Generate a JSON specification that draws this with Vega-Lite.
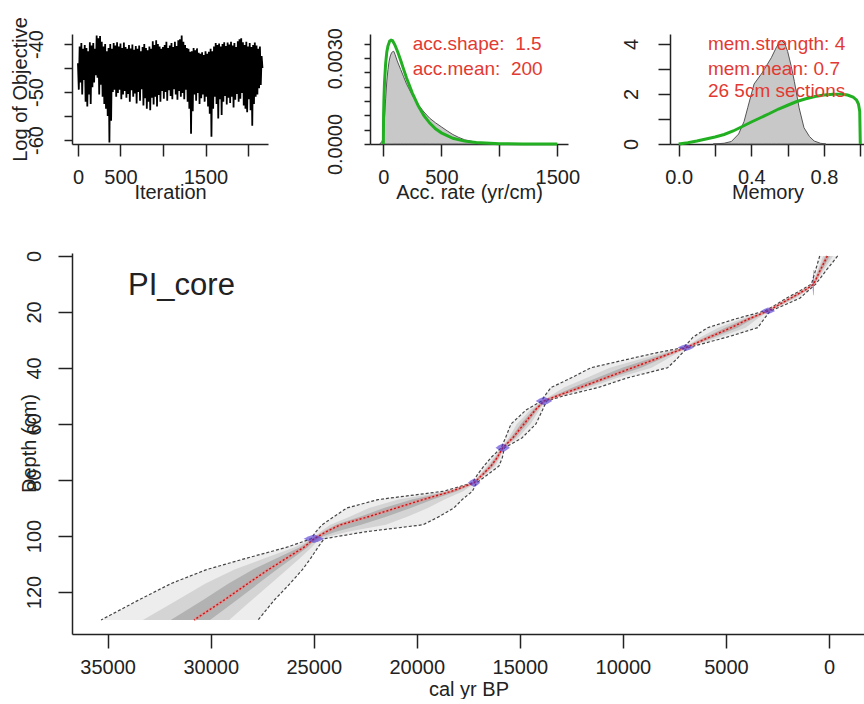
{
  "$schema": "https://vega.github.io/schema/vega-lite/v6.json",
  "padding": {"left": 9, "top": 16, "right": 0, "bottom": 0},
  "bounds": "flush",
  "spacing": 219,
  "config": {
    "view": {"stroke": null},
    "font": "Liberation Sans",
    "axis": {
      "grid": false, "domainColor": "#222", "domainWidth": 1.5, "tickColor": "#222", "tickWidth": 1.5,
      "labelFont": "Liberation Sans", "labelFontSize": 20, "labelColor": "#222",
      "titleFont": "Liberation Sans", "titleFontSize": 20, "titleFontWeight": "normal", "titleColor": "#222",
      "labelFlush": false, "labelOverlap": false
    }
  },
  "datasets": {
    "trace": [
      {"i":0,"v":-44},{"i":10,"v":-49.5},{"i":20,"v":-40.5},{"i":30,"v":-48},{"i":40,"v":-39.8},{"i":50,"v":-50.5},{"i":60,"v":-41},{"i":70,"v":-47.5},{"i":80,"v":-40.2},{"i":90,"v":-52},
      {"i":100,"v":-40.8},{"i":110,"v":-53},{"i":120,"v":-41.5},{"i":130,"v":-50.5},{"i":140,"v":-39.6},{"i":150,"v":-52.5},{"i":160,"v":-40.3},{"i":170,"v":-49},{"i":180,"v":-39.8},{"i":190,"v":-48},
      {"i":200,"v":-41},{"i":210,"v":-46.5},{"i":220,"v":-38.2},{"i":230,"v":-47},{"i":240,"v":-38.8},{"i":250,"v":-50.5},{"i":260,"v":-38.3},{"i":270,"v":-48.5},{"i":280,"v":-39.5},{"i":290,"v":-51},
      {"i":300,"v":-40.5},{"i":310,"v":-52.5},{"i":320,"v":-40},{"i":330,"v":-53.5},{"i":340,"v":-41.5},{"i":350,"v":-55},{"i":360,"v":-40.8},{"i":370,"v":-60.5},{"i":380,"v":-40},{"i":390,"v":-56},
      {"i":400,"v":-41},{"i":410,"v":-50},{"i":420,"v":-39.8},{"i":430,"v":-49.5},{"i":440,"v":-40.3},{"i":450,"v":-51},{"i":460,"v":-39.6},{"i":470,"v":-50.2},{"i":480,"v":-40.5},{"i":490,"v":-49.5},
      {"i":500,"v":-39.9},{"i":510,"v":-51.5},{"i":520,"v":-40.8},{"i":530,"v":-50.5},{"i":540,"v":-39.7},{"i":550,"v":-49.8},{"i":560,"v":-40.6},{"i":570,"v":-51.2},{"i":580,"v":-41},{"i":590,"v":-50.4},
      {"i":600,"v":-40.2},{"i":610,"v":-52},{"i":620,"v":-40.9},{"i":630,"v":-49.6},{"i":640,"v":-40.1},{"i":650,"v":-51},{"i":660,"v":-41.2},{"i":670,"v":-50.3},{"i":680,"v":-40.4},{"i":690,"v":-52.4},
      {"i":700,"v":-41},{"i":710,"v":-50},{"i":720,"v":-40.3},{"i":730,"v":-51.8},{"i":740,"v":-41.5},{"i":750,"v":-49.4},{"i":760,"v":-40.6},{"i":770,"v":-52.8},{"i":780,"v":-40},{"i":790,"v":-51.3},
      {"i":800,"v":-40.8},{"i":810,"v":-53.5},{"i":820,"v":-41.3},{"i":830,"v":-52},{"i":840,"v":-40.5},{"i":850,"v":-53.8},{"i":860,"v":-41},{"i":870,"v":-51.2},{"i":880,"v":-39.4},{"i":890,"v":-52.6},
      {"i":900,"v":-40.2},{"i":910,"v":-51},{"i":920,"v":-39.2},{"i":930,"v":-53},{"i":940,"v":-40},{"i":950,"v":-50.6},{"i":960,"v":-40.5},{"i":970,"v":-52},{"i":980,"v":-41},{"i":990,"v":-49.8},
      {"i":1000,"v":-40.6},{"i":1010,"v":-51.4},{"i":1020,"v":-40.2},{"i":1030,"v":-50},{"i":1040,"v":-39.5},{"i":1050,"v":-51.8},{"i":1060,"v":-40.8},{"i":1070,"v":-49.6},{"i":1080,"v":-40.3},{"i":1090,"v":-50.8},
      {"i":1100,"v":-39.8},{"i":1110,"v":-51.5},{"i":1120,"v":-40.6},{"i":1130,"v":-49.4},{"i":1140,"v":-39.5},{"i":1150,"v":-50.5},{"i":1160,"v":-40.4},{"i":1170,"v":-51.6},{"i":1180,"v":-39.2},{"i":1190,"v":-49.8},
      {"i":1200,"v":-39},{"i":1210,"v":-51},{"i":1220,"v":-38.2},{"i":1230,"v":-50.2},{"i":1240,"v":-39.5},{"i":1250,"v":-51.5},{"i":1260,"v":-40.2},{"i":1270,"v":-49.5},{"i":1280,"v":-40.8},{"i":1290,"v":-52},
      {"i":1300,"v":-41},{"i":1310,"v":-53.5},{"i":1320,"v":-41.6},{"i":1330,"v":-58.7},{"i":1340,"v":-41.5},{"i":1350,"v":-54},{"i":1360,"v":-40.8},{"i":1370,"v":-50.5},{"i":1380,"v":-41.3},{"i":1390,"v":-51.8},
      {"i":1400,"v":-40.9},{"i":1410,"v":-50.2},{"i":1420,"v":-41.8},{"i":1430,"v":-52.5},{"i":1440,"v":-42},{"i":1450,"v":-51.3},{"i":1460,"v":-41.7},{"i":1470,"v":-50.5},{"i":1480,"v":-42.3},{"i":1490,"v":-52},
      {"i":1500,"v":-41.5},{"i":1510,"v":-51},{"i":1520,"v":-42},{"i":1530,"v":-53},{"i":1540,"v":-41.6},{"i":1550,"v":-54.5},{"i":1560,"v":-41},{"i":1570,"v":-59.3},{"i":1580,"v":-41.5},{"i":1590,"v":-53.5},
      {"i":1600,"v":-40.5},{"i":1610,"v":-51},{"i":1620,"v":-39.8},{"i":1630,"v":-52.5},{"i":1640,"v":-40.2},{"i":1650,"v":-55.5},{"i":1660,"v":-39.9},{"i":1670,"v":-51.5},{"i":1680,"v":-40.5},{"i":1690,"v":-54.8},
      {"i":1700,"v":-40},{"i":1710,"v":-52},{"i":1720,"v":-39.6},{"i":1730,"v":-50.8},{"i":1740,"v":-40.4},{"i":1750,"v":-52.6},{"i":1760,"v":-39.7},{"i":1770,"v":-51.2},{"i":1780,"v":-40.1},{"i":1790,"v":-52.3},
      {"i":1800,"v":-39.5},{"i":1810,"v":-51},{"i":1820,"v":-40.3},{"i":1830,"v":-53.2},{"i":1840,"v":-39.8},{"i":1850,"v":-51.6},{"i":1860,"v":-40.6},{"i":1870,"v":-50.4},{"i":1880,"v":-39.4},{"i":1890,"v":-52},
      {"i":1900,"v":-39},{"i":1910,"v":-51.4},{"i":1920,"v":-38.8},{"i":1930,"v":-50.2},{"i":1940,"v":-39.6},{"i":1950,"v":-52.8},{"i":1960,"v":-40.2},{"i":1970,"v":-53.5},{"i":1980,"v":-39.5},{"i":1990,"v":-54.2},
      {"i":2000,"v":-40.5},{"i":2010,"v":-51.5},{"i":2020,"v":-39.8},{"i":2030,"v":-53.8},{"i":2040,"v":-40.6},{"i":2050,"v":-57},{"i":2060,"v":-40.2},{"i":2070,"v":-52.5},{"i":2080,"v":-39.7},{"i":2090,"v":-51},
      {"i":2100,"v":-40.3},{"i":2110,"v":-50.5},{"i":2120,"v":-41},{"i":2130,"v":-49.2},{"i":2140,"v":-40.5},{"i":2150,"v":-48.5},{"i":2160,"v":-42.5},{"i":2170,"v":-45}
    ],
    "accPost": [
      {"x":-30,"y":0},{"x":-10,"y":0.0001},{"x":0,"y":0.0003},{"x":10,"y":0.0009},{"x":20,"y":0.0016},{"x":30,"y":0.0022},{"x":40,"y":0.0026},{"x":50,"y":0.0029},{"x":60,"y":0.00308},{"x":70,"y":0.00318},
      {"x":80,"y":0.00323},{"x":90,"y":0.00324},{"x":100,"y":0.00314},{"x":120,"y":0.0029},{"x":150,"y":0.0026},{"x":175,"y":0.00235},{"x":200,"y":0.0021},{"x":250,"y":0.0017},{"x":300,"y":0.00138},{"x":350,"y":0.00112},
      {"x":400,"y":0.0009},{"x":450,"y":0.00074},{"x":500,"y":0.0006},{"x":550,"y":0.00046},{"x":600,"y":0.00033},{"x":650,"y":0.00023},{"x":700,"y":0.00015},{"x":800,"y":0.00006},{"x":900,"y":0.00002},{"x":950,"y":0}
    ],
    "accPrior": [
      {"x":0,"y":0},{"x":2,"y":0.001},{"x":5,"y":0.00155},{"x":10,"y":0.00215},{"x":20,"y":0.00282},{"x":30,"y":0.00322},{"x":40,"y":0.00343},{"x":55,"y":0.0036},{"x":67,"y":0.00363},{"x":80,"y":0.00361},
      {"x":100,"y":0.00346},{"x":125,"y":0.00321},{"x":150,"y":0.00292},{"x":175,"y":0.00261},{"x":200,"y":0.00231},{"x":250,"y":0.00178},{"x":300,"y":0.00134},{"x":350,"y":0.00099},{"x":400,"y":0.00073},{"x":450,"y":0.00053},
      {"x":500,"y":0.00039},{"x":600,"y":0.0002},{"x":700,"y":0.0001},{"x":800,"y":0.00005},{"x":1000,"y":0.000013},{"x":1200,"y":0.000003},{"x":1500,"y":0}
    ],
    "accText": [
      {"x":253,"y":0.0035,"t":"acc.shape:\u00a0 1.5"},
      {"x":253,"y":0.00262,"t":"acc.mean:\u00a0 200"}
    ],
    "memPost": [
      {"x":0.19,"y":0},{"x":0.25,"y":0.03},{"x":0.29,"y":0.1},{"x":0.33,"y":0.4},{"x":0.36,"y":0.9},{"x":0.38,"y":1.45},{"x":0.415,"y":2.4},{"x":0.46,"y":2.85},{"x":0.51,"y":3.45},{"x":0.54,"y":3.9},
      {"x":0.565,"y":4.15},{"x":0.585,"y":4.0},{"x":0.6,"y":3.7},{"x":0.62,"y":3.1},{"x":0.637,"y":2.5},{"x":0.663,"y":1.45},{"x":0.69,"y":0.65},{"x":0.72,"y":0.3},{"x":0.746,"y":0.12},{"x":0.78,"y":0.03},{"x":0.81,"y":0}
    ],
    "memPrior": [
      {"x":0,"y":0},{"x":0.05,"y":0.05},{"x":0.1,"y":0.12},{"x":0.15,"y":0.2},{"x":0.2,"y":0.28},{"x":0.25,"y":0.38},{"x":0.3,"y":0.52},{"x":0.35,"y":0.7},{"x":0.4,"y":0.88},{"x":0.45,"y":1.05},
      {"x":0.5,"y":1.22},{"x":0.55,"y":1.4},{"x":0.6,"y":1.55},{"x":0.65,"y":1.7},{"x":0.7,"y":1.81},{"x":0.75,"y":1.9},{"x":0.8,"y":1.96},{"x":0.85,"y":1.99},{"x":0.9,"y":1.99},{"x":0.93,"y":1.96},
      {"x":0.96,"y":1.88},{"x":0.98,"y":1.75},{"x":0.99,"y":1.6},{"x":0.997,"y":1.3},{"x":1.0,"y":0}
    ],
    "memText": [
      {"x":0.161,"y":4.0,"t":"mem.strength: 4"},
      {"x":0.161,"y":3.0,"t":"mem.mean: 0.7"},
      {"x":0.161,"y":2.12,"t":"26 5cm sections"}
    ],
    "model": [
      {"depth":0,"old":450,"mean":80,"young":-420,"bo":284,"by":-195,"co":173,"cy":-45},
      {"depth":5,"old":650,"mean":420,"young":120,"bo":547,"by":255,"co":478,"cy":345},
      {"depth":10,"old":850,"mean":740,"young":640,"bo":800,"by":685,"co":768,"cy":715},
      {"depth":12,"old":1300,"mean":1120,"young":950,"bo":1219,"by":1027,"co":1165,"cy":1078},
      {"depth":15,"old":2050,"mean":1850,"young":1400,"bo":1960,"by":1603,"co":1900,"cy":1738},
      {"depth":17.5,"old":2600,"mean":2450,"young":2150,"bo":2533,"by":2285,"co":2488,"cy":2375},
      {"depth":19.6,"old":3100,"mean":2960,"young":2850,"bo":3037,"by":2900,"co":2995,"cy":2933},
      {"depth":22.5,"old":4550,"mean":3900,"young":3150,"bo":4258,"by":3488,"co":4063,"cy":3713},
      {"depth":25.6,"old":5890,"mean":4750,"young":3460,"bo":5377,"by":4041,"co":5035,"cy":4428},
      {"depth":29,"old":6600,"mean":5800,"young":4950,"bo":6240,"by":5333,"co":6000,"cy":5588},
      {"depth":32.7,"old":7050,"mean":6940,"young":6830,"bo":7001,"by":6880,"co":6968,"cy":6913},
      {"depth":34.5,"old":8330,"mean":7590,"young":7100,"bo":7997,"by":7320,"co":7775,"cy":7468},
      {"depth":36.9,"old":9780,"mean":8450,"young":7400,"bo":9182,"by":7873,"co":8783,"cy":8188},
      {"depth":39.9,"old":11550,"mean":9530,"young":7830,"bo":10641,"by":8606,"co":10035,"cy":9110},
      {"depth":43.5,"old":12500,"mean":10830,"young":9770,"bo":11749,"by":10247,"co":11248,"cy":10565},
      {"depth":47,"old":13490,"mean":12090,"young":11210,"bo":12860,"by":11606,"co":12440,"cy":11870},
      {"depth":50,"old":13800,"mean":13200,"young":12900,"bo":13530,"by":13035,"co":13350,"cy":13125},
      {"depth":51.8,"old":13950,"mean":13830,"young":13700,"bo":13896,"by":13759,"co":13860,"cy":13798},
      {"depth":55,"old":14700,"mean":14250,"young":13900,"bo":14498,"by":14058,"co":14363,"cy":14163},
      {"depth":60,"old":15430,"mean":14800,"young":14220,"bo":15147,"by":14481,"co":14958,"cy":14655},
      {"depth":65,"old":15700,"mean":15350,"young":14900,"bo":15543,"by":15103,"co":15438,"cy":15238},
      {"depth":68.5,"old":15900,"mean":15830,"young":15750,"bo":15869,"by":15786,"co":15848,"cy":15810},
      {"depth":72,"old":16400,"mean":16100,"young":15850,"bo":16265,"by":15963,"co":16175,"cy":16038},
      {"depth":75,"old":16740,"mean":16400,"young":16010,"bo":16587,"by":16186,"co":16485,"cy":16303},
      {"depth":78,"old":17050,"mean":16800,"young":16550,"bo":16938,"by":16663,"co":16863,"cy":16738},
      {"depth":81,"old":17300,"mean":17220,"young":17100,"bo":17264,"by":17154,"co":17240,"cy":17190},
      {"depth":84,"old":18680,"mean":18300,"young":17300,"bo":18509,"by":17750,"co":18395,"cy":18050},
      {"depth":87,"old":21880,"mean":19700,"young":17800,"bo":20899,"by":18655,"co":20245,"cy":19225},
      {"depth":90,"old":23400,"mean":21000,"young":18200,"bo":22320,"by":19460,"co":21600,"cy":20300},
      {"depth":93,"old":24000,"mean":22300,"young":18900,"bo":23235,"by":20430,"co":22725,"cy":21450},
      {"depth":96,"old":24600,"mean":23700,"young":19700,"bo":24195,"by":21500,"co":23925,"cy":22700},
      {"depth":98.5,"old":24900,"mean":24400,"young":22500,"bo":24675,"by":23355,"co":24525,"cy":23925},
      {"depth":101,"old":25130,"mean":24990,"young":24500,"bo":25067,"by":24720,"co":25025,"cy":24868},
      {"depth":104,"old":26300,"mean":25470,"young":24790,"bo":25927,"by":25096,"co":25678,"cy":25300},
      {"depth":108,"old":28300,"mean":26340,"young":25150,"bo":27418,"by":25686,"co":26830,"cy":26043},
      {"depth":112,"old":30200,"mean":27200,"young":25550,"bo":28850,"by":26293,"co":27950,"cy":26788},
      {"depth":117,"old":31930,"mean":28200,"young":26150,"bo":30252,"by":27073,"co":29133,"cy":27688},
      {"depth":123,"old":33530,"mean":29370,"young":26930,"bo":31658,"by":28028,"co":30410,"cy":28760},
      {"depth":130,"old":35320,"mean":30810,"young":27700,"bo":33291,"by":29100,"co":31938,"cy":30033}
    ],
    "dates": [
      {"date":1,"age":735,"depth":9,"depth2":12},{"date":1,"age":750,"depth":5,"depth2":14},{"date":1,"age":770,"depth":5,"depth2":14},{"date":1,"age":785,"depth":9,"depth2":12},
      {"date":2,"age":2610,"depth":19.6,"depth2":19.6},{"date":2,"age":2785,"depth":18.9,"depth2":20.3},{"date":2,"age":2960,"depth":18.4,"depth2":20.8},{"date":2,"age":3135,"depth":18.9,"depth2":20.3},{"date":2,"age":3310,"depth":19.6,"depth2":19.6},
      {"date":3,"age":6540,"depth":32.7,"depth2":32.7},{"date":3,"age":6740,"depth":32.0,"depth2":33.4},{"date":3,"age":6940,"depth":31.5,"depth2":33.9},{"date":3,"age":7140,"depth":32.0,"depth2":33.4},{"date":3,"age":7340,"depth":32.7,"depth2":32.7},
      {"date":4,"age":13430,"depth":51.8,"depth2":51.8},{"date":4,"age":13630,"depth":50.9,"depth2":52.7},{"date":4,"age":13830,"depth":50.3,"depth2":53.3},{"date":4,"age":14030,"depth":50.9,"depth2":52.7},{"date":4,"age":14230,"depth":51.8,"depth2":51.8},
      {"date":5,"age":15480,"depth":68.5,"depth2":68.5},{"date":5,"age":15655,"depth":67.6,"depth2":69.4},{"date":5,"age":15830,"depth":67.0,"depth2":70.0},{"date":5,"age":16005,"depth":67.6,"depth2":69.4},{"date":5,"age":16180,"depth":68.5,"depth2":68.5},
      {"date":6,"age":16920,"depth":81,"depth2":81},{"date":6,"age":17070,"depth":80.1,"depth2":81.9},{"date":6,"age":17220,"depth":79.5,"depth2":82.5},{"date":6,"age":17370,"depth":80.1,"depth2":81.9},{"date":6,"age":17520,"depth":81,"depth2":81},
      {"date":7,"age":24490,"depth":101,"depth2":101},{"date":7,"age":24740,"depth":100.1,"depth2":101.9},{"date":7,"age":24990,"depth":99.5,"depth2":102.5},{"date":7,"age":25240,"depth":100.1,"depth2":101.9},{"date":7,"age":25490,"depth":101,"depth2":101}
    ],
    "coreLabel": [{"age":34010,"depth":10.7,"t":"PI_core"}]
  },
  "vconcat": [
    {
      "bounds": "flush",
      "spacing": 102,
      "hconcat": [
        {
          "width": 196, "height": 110,
          "data": {"name": "trace"},
          "mark": {"type": "line", "color": "#000", "strokeWidth": 1.8},
          "encoding": {
            "x": {"field": "i", "type": "quantitative",
              "scale": {"domain": [-70, 2235], "nice": false, "zero": false},
              "axis": {"values": [0, 500, 1000, 1500, 2000], "format": "d",
                "labelExpr": "datum.value == 1000 || datum.value == 2000 ? '' : datum.label",
                "tickSize": 12, "labelPadding": 11, "title": "Iteration", "titleY": 38, "titleBaseline": "top"}},
            "y": {"field": "v", "type": "quantitative",
              "scale": {"domain": [-60.83, -37.9], "nice": false, "zero": false},
              "axis": {"values": [-60, -55, -50, -45, -40],
                "labelExpr": "datum.value == -45 || datum.value == -55 ? '' : '-' + abs(datum.value)",
                "labelAngle": 270, "labelAlign": "center", "labelBaseline": "bottom",
                "tickSize": 8, "labelPadding": 18,
                "title": "Log of Objective", "titleX": -42, "titleY": 55, "titleAngle": 270, "titleBaseline": "bottom"}}
          }
        },
        {
          "width": 198, "height": 110,
          "encoding": {
            "x": {"field": "x", "type": "quantitative",
              "scale": {"domain": [-115, 1592], "nice": false, "zero": false},
              "axis": {"values": [0, 500, 1000, 1500], "format": "d",
                "labelExpr": "datum.value == 1000 ? '' : datum.label",
                "tickSize": 12, "labelPadding": 11, "title": "Acc. rate (yr/cm)", "titleY": 38, "titleBaseline": "top"}},
            "y": {"field": "y", "type": "quantitative",
              "scale": {"domain": [0, 0.003846], "nice": false, "zero": false},
              "axis": {"values": [0, 0.0005, 0.001, 0.0015, 0.002, 0.0025, 0.003, 0.0035],
                "labelExpr": "datum.value == 0 || abs(datum.value - 0.003) < 0.0000001 ? format(datum.value, '.4f') : ''",
                "labelAngle": 270, "labelAlign": "center", "labelBaseline": "bottom",
                "tickSize": 6, "labelPadding": 19, "title": null}}
          },
          "layer": [
            {"data": {"name": "accPost"}, "mark": {"type": "area", "fill": "#c8c8c8", "stroke": "#555", "strokeWidth": 1}},
            {"data": {"name": "accPrior"}, "mark": {"type": "line", "color": "#22b022", "strokeWidth": 3}},
            {"data": {"name": "accText"}, "mark": {"type": "text", "align": "left", "baseline": "middle", "fontSize": 19, "color": "#e23a32", "font": "Liberation Sans"},
              "encoding": {"text": {"field": "t"}}}
          ]
        },
        {
          "width": 195, "height": 110,
          "encoding": {
            "x": {"field": "x", "type": "quantitative",
              "scale": {"domain": [-0.048, 1.026], "nice": false, "zero": false},
              "axis": {"values": [0, 0.2, 0.4, 0.6, 0.8, 1.0],
                "labelExpr": "abs(datum.value) < 0.000001 || abs(datum.value - 0.4) < 0.000001 || abs(datum.value - 0.8) < 0.000001 ? format(datum.value, '.1f') : ''",
                "tickSize": 12, "labelPadding": 11, "title": "Memory", "titleY": 38, "titleBaseline": "top"}},
            "y": {"field": "y", "type": "quantitative",
              "scale": {"domain": [0, 4.4], "nice": false, "zero": false},
              "axis": {"values": [0, 1, 2, 3, 4],
                "labelExpr": "datum.value % 2 == 0 ? datum.label : ''",
                "labelAngle": 270, "labelAlign": "center", "labelBaseline": "bottom",
                "tickSize": 12, "labelPadding": 17, "title": null}}
          },
          "layer": [
            {"data": {"name": "memPost"}, "mark": {"type": "area", "fill": "#c8c8c8", "stroke": "#555", "strokeWidth": 1}},
            {"data": {"name": "memPrior"}, "mark": {"type": "line", "color": "#22b022", "strokeWidth": 3}},
            {"data": {"name": "memText"}, "mark": {"type": "text", "align": "left", "baseline": "middle", "fontSize": 19, "color": "#e23a32", "font": "Liberation Sans"},
              "encoding": {"text": {"field": "t"}}}
          ]
        }
      ]
    },
    {
      "width": 793, "height": 381,
      "encoding": {
        "y": {"field": "depth", "type": "quantitative",
          "scale": {"domain": [-1.07, 135], "reverse": true, "nice": false, "zero": false},
          "axis": {"values": [0, 20, 40, 60, 80, 100, 120],
            "labelAngle": 270, "labelAlign": "center", "labelBaseline": "bottom",
            "tickSize": 14, "labelPadding": 14,
            "title": "Depth (cm)", "titleX": -33, "titleY": 190, "titleAngle": 270, "titleBaseline": "bottom"}}
      },
      "layer": [
        {"data": {"name": "model"},
          "mark": {"type": "area", "orient": "horizontal", "fill": "#000", "opacity": 0.07},
          "encoding": {
            "x": {"field": "old", "type": "quantitative",
              "scale": {"domain": [-1747, 36730], "reverse": true, "nice": false, "zero": false},
              "axis": {"values": [0, 5000, 10000, 15000, 20000, 25000, 30000, 35000], "format": "d", "tickSize": 14, "labelPadding": 9, "title": "cal yr BP", "titleY": 45, "titleBaseline": "top"}},
            "x2": {"field": "young"}
          }},
        {"data": {"name": "model"},
          "mark": {"type": "area", "orient": "horizontal", "fill": "#000", "opacity": 0.1},
          "encoding": {"x": {"field": "bo", "type": "quantitative",
              "axis": {"values": [0, 5000, 10000, 15000, 20000, 25000, 30000, 35000], "format": "d", "tickSize": 14, "labelPadding": 9, "title": "cal yr BP", "titleY": 45, "titleBaseline": "top"}},
            "x2": {"field": "by"}}},
        {"data": {"name": "model"},
          "mark": {"type": "area", "orient": "horizontal", "fill": "#000", "opacity": 0.16},
          "encoding": {"x": {"field": "co", "type": "quantitative",
              "axis": {"values": [0, 5000, 10000, 15000, 20000, 25000, 30000, 35000], "format": "d", "tickSize": 14, "labelPadding": 9, "title": "cal yr BP", "titleY": 45, "titleBaseline": "top"}},
            "x2": {"field": "cy"}}},
        {"data": {"name": "model"},
          "mark": {"type": "line", "color": "#444", "strokeWidth": 1.2, "strokeDash": [3, 2]},
          "encoding": {"x": {"field": "old", "type": "quantitative",
              "axis": {"values": [0, 5000, 10000, 15000, 20000, 25000, 30000, 35000], "format": "d", "tickSize": 14, "labelPadding": 9, "title": "cal yr BP", "titleY": 45, "titleBaseline": "top"}},
            "order": {"field": "depth", "type": "quantitative"}}},
        {"data": {"name": "model"},
          "mark": {"type": "line", "color": "#444", "strokeWidth": 1.2, "strokeDash": [3, 2]},
          "encoding": {"x": {"field": "young", "type": "quantitative",
              "axis": {"values": [0, 5000, 10000, 15000, 20000, 25000, 30000, 35000], "format": "d", "tickSize": 14, "labelPadding": 9, "title": "cal yr BP", "titleY": 45, "titleBaseline": "top"}},
            "order": {"field": "depth", "type": "quantitative"}}},
        {"data": {"name": "model"},
          "mark": {"type": "line", "color": "#f08080", "strokeWidth": 3, "opacity": 0.45},
          "encoding": {"x": {"field": "mean", "type": "quantitative",
              "axis": {"values": [0, 5000, 10000, 15000, 20000, 25000, 30000, 35000], "format": "d", "tickSize": 14, "labelPadding": 9, "title": "cal yr BP", "titleY": 45, "titleBaseline": "top"}},
            "order": {"field": "depth", "type": "quantitative"}}},
        {"data": {"name": "model"},
          "mark": {"type": "line", "color": "#d01010", "strokeWidth": 1.4, "strokeDash": [2, 2]},
          "encoding": {"x": {"field": "mean", "type": "quantitative",
              "axis": {"values": [0, 5000, 10000, 15000, 20000, 25000, 30000, 35000], "format": "d", "tickSize": 14, "labelPadding": 9, "title": "cal yr BP", "titleY": 45, "titleBaseline": "top"}},
            "order": {"field": "depth", "type": "quantitative"}}},
        {"data": {"name": "dates"},
          "mark": {"type": "area", "orient": "vertical", "fill": "#4a2fd0", "opacity": 0.6},
          "encoding": {"x": {"field": "age", "type": "quantitative",
              "axis": {"values": [0, 5000, 10000, 15000, 20000, 25000, 30000, 35000], "format": "d", "tickSize": 14, "labelPadding": 9, "title": "cal yr BP", "titleY": 45, "titleBaseline": "top"}},
            "y2": {"field": "depth2"}, "detail": {"field": "date", "type": "nominal"}}},
        {"data": {"name": "coreLabel"},
          "mark": {"type": "text", "align": "left", "baseline": "middle", "fontSize": 31, "color": "#222", "font": "Liberation Sans"},
          "encoding": {"x": {"field": "age", "type": "quantitative",
              "axis": {"values": [0, 5000, 10000, 15000, 20000, 25000, 30000, 35000], "format": "d", "tickSize": 14, "labelPadding": 9, "title": "cal yr BP", "titleY": 45, "titleBaseline": "top"}},
            "text": {"field": "t"}}}
      ]
    }
  ]
}
